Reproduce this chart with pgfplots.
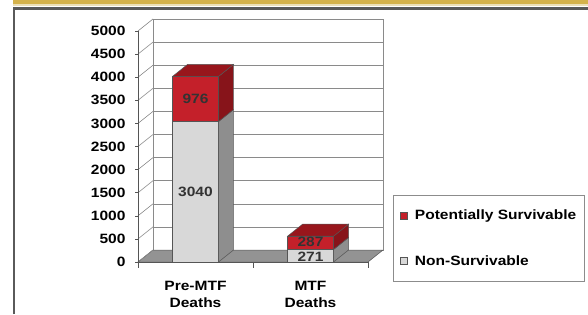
\documentclass[border=0pt]{standalone}
\usepackage{fontspec}
\setmainfont{Liberation Sans}[FakeStretch=1.15]
\usepackage{pgfplots}
\pgfplotsset{compat=1.18}
\definecolor{gold}{HTML}{D4B24C}
\definecolor{cream}{HTML}{ECE0B8}
\definecolor{framec}{HTML}{5A5A5A}
\definecolor{gridc}{HTML}{8A8A8A}
\definecolor{edgec}{HTML}{555555}
\definecolor{floorc}{HTML}{939393}
\definecolor{grayf}{HTML}{D8D8D8}
\definecolor{grays}{HTML}{8E8E8E}
\definecolor{redf}{HTML}{C4202A}
\definecolor{reds}{HTML}{87141A}
\definecolor{redt}{HTML}{98161C}
\definecolor{legc}{HTML}{8C8C8C}
\newcommand{\lblfont}{\bfseries\fontsize{13.5}{17}\selectfont}
\begin{document}
\begin{tikzpicture}[x=1pt,y=1pt]
\useasboundingbox (0,0) rectangle (588,314);
\fill[gold] (13,309.5) rectangle (588,314);
\fill[cream] (13,307.5) rectangle (588,309.5);
\draw[line width=2.2pt, framec] (14,0) -- (14,305.5) -- (588,305.5);

% back wall
\begin{axis}[at={(153pt,64pt)}, anchor=south west, scale only axis,
  width=230pt, height=231pt, xmin=0, xmax=2, ymin=0, ymax=5000,
  xtick=\empty, ytick={0,500,...,5000}, yticklabels={},
  ymajorgrids, major grid style={gridc, line width=0.6pt},
  axis line style={gridc, line width=0.6pt}, major tick length=0pt]
\end{axis}

% floor
\fill[floorc, draw=edgec, line width=0.5pt] (138,52) -- (368,52) -- (383,64) -- (153,64) -- cycle;
% left wall lines
\foreach \v in {0,500,...,5000} \draw[gridc, line width=0.6pt] (138,52+\v*0.0462) -- ++(15,12);
% x tick marks
\foreach \xx in {138,253,368} \draw[edgec, line width=0.6pt] (\xx,52) -- (\xx,46);

% front axis with bars
\begin{axis}[at={(138pt,52pt)}, anchor=south west, scale only axis,
  width=230pt, height=231pt, xmin=0, xmax=2, ymin=0, ymax=5000, clip=false,
  axis x line*=bottom, axis y line*=left,
  axis line style={edgec, line width=0.6pt, -},
  ytick={0,500,...,5000}, scaled y ticks=false,
  yticklabel style={/pgf/number format/1000 sep={}, /pgf/number format/assume math mode=true, font=\lblfont, xshift=-6pt},
  xtick={0.5,1.5}, xticklabels={{Pre-MTF\\Deaths},{MTF\\Deaths}},
  xticklabel style={align=center, font=\lblfont, yshift=-13pt},
  xtick style={draw=none}, ytick style={draw=edgec, line width=0.6pt},
  tick align=outside, major tick length=3pt,
  legend style={at={(axis description cs:1.109,-0.0866)}, anchor=south west,
    draw=legc, line width=0.8pt, inner xsep=7pt, inner ysep=14pt, row sep=32pt,
    font=\lblfont, cells={anchor=west}, nodes={inner sep=1pt},
    /tikz/every odd column/.append style={column sep=6pt}},
]
% Pre-MTF: 3040 non-survivable, 976 potentially survivable
\addplot[fill=grayf, draw=edgec, line width=0.5pt, forget plot] coordinates {(0.3,0) (0.7,0) (0.7,3040) (0.3,3040)} -- cycle;
\addplot[fill=grays, draw=edgec, line width=0.5pt, forget plot] coordinates {(0.7,0) (0.8304,259.7) (0.8304,3299.7) (0.7,3040)} -- cycle;
\addplot[fill=redf, draw=edgec, line width=0.5pt, forget plot] coordinates {(0.3,3040) (0.7,3040) (0.7,4016) (0.3,4016)} -- cycle;
\addplot[fill=reds, draw=edgec, line width=0.5pt, forget plot] coordinates {(0.7,3040) (0.8304,3299.7) (0.8304,4275.7) (0.7,4016)} -- cycle;
\addplot[fill=redt, draw=edgec, line width=0.5pt, forget plot] coordinates {(0.3,4016) (0.7,4016) (0.8304,4275.7) (0.4304,4275.7)} -- cycle;
% MTF: 271 non-survivable, 287 potentially survivable
\addplot[fill=grayf, draw=edgec, line width=0.5pt, forget plot] coordinates {(1.3,0) (1.7,0) (1.7,271) (1.3,271)} -- cycle;
\addplot[fill=grays, draw=edgec, line width=0.5pt, forget plot] coordinates {(1.7,0) (1.8304,259.7) (1.8304,530.7) (1.7,271)} -- cycle;
\addplot[fill=redf, draw=edgec, line width=0.5pt, forget plot] coordinates {(1.3,271) (1.7,271) (1.7,558) (1.3,558)} -- cycle;
\addplot[fill=reds, draw=edgec, line width=0.5pt, forget plot] coordinates {(1.7,271) (1.8304,530.7) (1.8304,817.7) (1.7,558)} -- cycle;
\addplot[fill=redt, draw=edgec, line width=0.5pt, forget plot] coordinates {(1.3,558) (1.7,558) (1.8304,817.7) (1.4304,817.7)} -- cycle;

\node[font=\lblfont, text=black!80] at (axis cs:0.5,3528) {976};
\node[font=\lblfont, text=black!80] at (axis cs:0.5,1520) {3040};
\node[font=\lblfont, text=black!80] at (axis cs:1.5,430) {287};
\node[font=\lblfont, text=black!80] at (axis cs:1.5,110) {271};

\addlegendimage{legend image code/.code={\draw[fill=redf, draw=edgec, line width=0.5pt] (0pt,-3.5pt) rectangle (7pt,3.5pt);}}
\addlegendentry{Potentially Survivable}
\addlegendimage{legend image code/.code={\draw[fill=grayf, draw=edgec, line width=0.5pt] (0pt,-3.5pt) rectangle (7pt,3.5pt);}}
\addlegendentry{Non-Survivable}
\end{axis}
\end{tikzpicture}
\end{document}
